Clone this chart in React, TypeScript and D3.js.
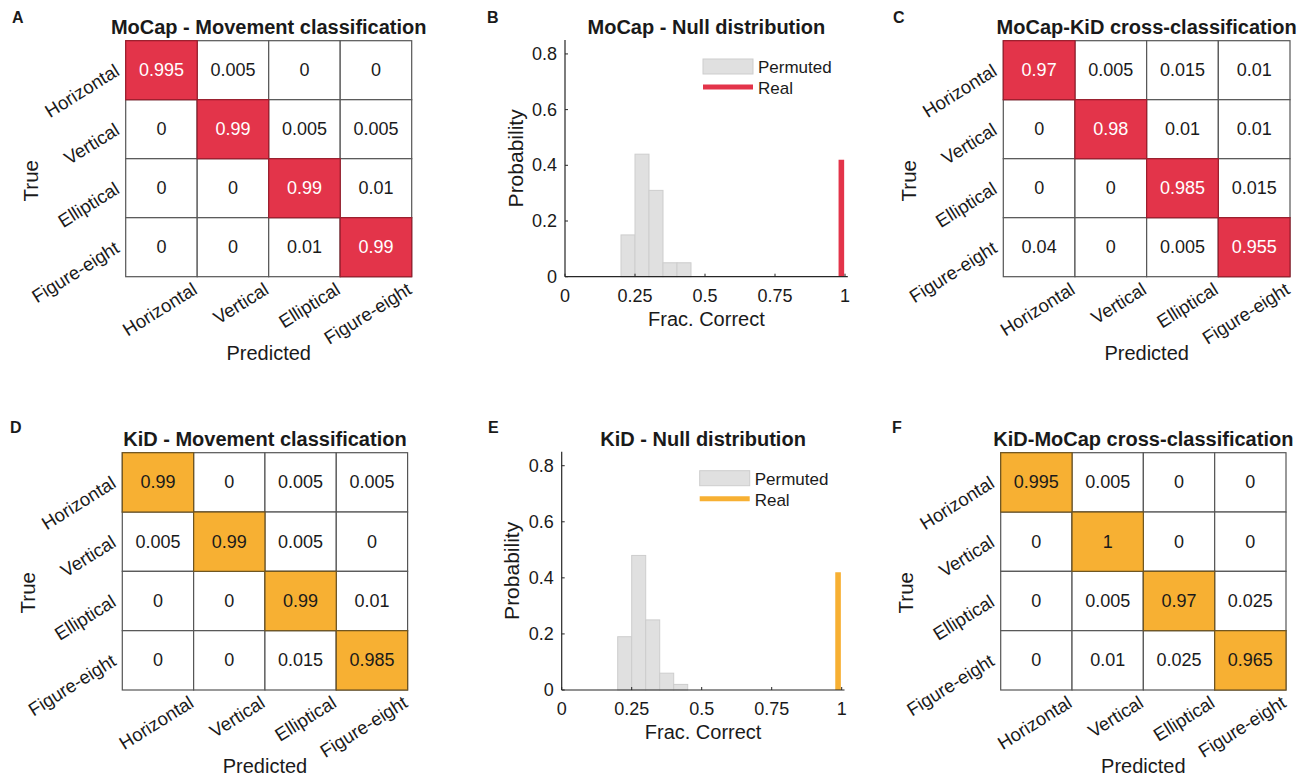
import React from "react";
import * as d3 from "d3";

// class labels shared by every confusion matrix
const classes = ["Horizontal", "Vertical", "Elliptical", "Figure-eight"];

// confusion matrices (rows = true, cols = predicted)
const mocapMatrix = [
  [0.995, 0.005, 0, 0],
  [0, 0.99, 0.005, 0.005],
  [0, 0, 0.99, 0.01],
  [0, 0, 0.01, 0.99],
];
const mocapKidMatrix = [
  [0.97, 0.005, 0.015, 0.01],
  [0, 0.98, 0.01, 0.01],
  [0, 0, 0.985, 0.015],
  [0.04, 0, 0.005, 0.955],
];
const kidMatrix = [
  [0.99, 0, 0.005, 0.005],
  [0.005, 0.99, 0.005, 0],
  [0, 0, 0.99, 0.01],
  [0, 0, 0.015, 0.985],
];
const kidMocapMatrix = [
  [0.995, 0.005, 0, 0],
  [0, 1, 0, 0],
  [0, 0.005, 0.97, 0.025],
  [0, 0.01, 0.025, 0.965],
];

// null distribution histograms
const binEdges = [0.2, 0.25, 0.3, 0.35, 0.4, 0.45];
const mocapNull = [0.15, 0.44, 0.31, 0.05, 0.05];
const kidNull = [0.19, 0.48, 0.25, 0.06, 0.02];
const realCorrect = 0.987;
const realBarWidth = 0.02;
const mocapRealHeight = 0.42;
const kidRealHeight = 0.42;

const xTicks = [0, 0.25, 0.5, 0.75, 1];
const yTicks = [0, 0.2, 0.4, 0.6, 0.8];

const RED = "#e3344a";
const ORANGE = "#f7b033";
const FONT = "'Liberation Sans', Arial, Helvetica, sans-serif";
const INK = "#1a1a1a";

type MatrixProps = {
  letter: string;
  title: string;
  data: number[][];
  color: string;
  stroke: string;
  textOn: string;
  left: number;
  top: number;
  width: number;
  height: number;
  letterX: number;
  letterY: number;
};

function Matrix(p: MatrixProps) {
  const x = d3.scaleBand().domain(classes).range([p.left, p.left + p.width]);
  const y = d3.scaleBand().domain(classes).range([p.top, p.top + p.height]);
  const bottom = p.top + p.height;
  const cells = p.data.flatMap((row, i) =>
    row.map((v, j) => ({ v, t: classes[i], pr: classes[j], hi: v > 0.5 }))
  );
  return (
    <g fontFamily={FONT}>
      <text x={p.letterX} y={p.letterY} fontSize={16} fontWeight="bold" fill={INK}>
        {p.letter}
      </text>
      <text
        x={p.left + p.width / 2}
        y={p.top - 7}
        textAnchor="middle"
        fontSize={20}
        fontWeight="bold"
        fill={INK}
      >
        {p.title}
      </text>
      {cells.map((c, k) => (
        <rect
          key={"w" + k}
          x={x(c.pr)}
          y={y(c.t)}
          width={x.bandwidth()}
          height={y.bandwidth()}
          fill="#fff"
          stroke="#555"
          strokeWidth={1.2}
        />
      ))}
      {cells
        .filter((c) => c.hi)
        .map((c, k) => (
          <rect
            key={"h" + k}
            x={x(c.pr)}
            y={y(c.t)}
            width={x.bandwidth()}
            height={y.bandwidth()}
            fill={p.color}
            stroke={p.stroke}
            strokeWidth={1.2}
          />
        ))}
      {cells.map((c, k) => (
        <text
          key={"t" + k}
          x={(x(c.pr) as number) + x.bandwidth() / 2}
          y={(y(c.t) as number) + y.bandwidth() / 2}
          textAnchor="middle"
          dominantBaseline="central"
          fontSize={18}
          fill={c.hi ? p.textOn : INK}
        >
          {String(c.v)}
        </text>
      ))}
      {classes.map((c) => {
        const px = p.left - 5;
        const py = (y(c) as number) + y.bandwidth() / 2 + 4;
        return (
          <text
            key={"y" + c}
            transform={`translate(${px},${py}) rotate(-32)`}
            textAnchor="end"
            fontSize={18.5}
            fill={INK}
          >
            {c}
          </text>
        );
      })}
      {classes.map((c) => {
        const px = (x(c) as number) + x.bandwidth() / 2 + 37;
        const py = bottom + 16;
        return (
          <text
            key={"x" + c}
            transform={`translate(${px},${py}) rotate(-32)`}
            textAnchor="end"
            fontSize={18.5}
            fill={INK}
          >
            {c}
          </text>
        );
      })}
      <text
        transform={`translate(${p.left - 95},${p.top + 140}) rotate(-90)`}
        textAnchor="middle"
        dominantBaseline="central"
        fontSize={20.5}
        fill={INK}
      >
        True
      </text>
      <text x={p.left + p.width / 2} y={bottom + 83} textAnchor="middle" fontSize={20} fill={INK}>
        Predicted
      </text>
    </g>
  );
}

type HistProps = {
  letter: string;
  title: string;
  probs: number[];
  realHeight: number;
  color: string;
  left: number;
  top: number;
  bottom: number;
  letterX: number;
  letterY: number;
};

function NullHist(p: HistProps) {
  const x = d3.scaleLinear().domain([0, 1]).range([p.left, p.left + 280]);
  const y = d3.scaleLinear().domain([0, 0.85]).range([p.bottom, p.top]);
  const xEnd = x(1.01);
  const bins = p.probs.map((v, i) => ({ x0: binEdges[i], x1: binEdges[i + 1], v }));
  const lx = p.left + 138;
  const ly = p.top + 19;
  return (
    <g fontFamily={FONT}>
      <text x={p.letterX} y={p.letterY} fontSize={16} fontWeight="bold" fill={INK}>
        {p.letter}
      </text>
      <text
        x={(p.left + xEnd) / 2}
        y={p.top - 6}
        textAnchor="middle"
        fontSize={20}
        fontWeight="bold"
        fill={INK}
      >
        {p.title}
      </text>
      {bins.map((b, i) => (
        <rect
          key={i}
          x={x(b.x0)}
          y={y(b.v)}
          width={x(b.x1) - x(b.x0)}
          height={y(0) - y(b.v)}
          fill="#e0e0e0"
          stroke="#cdcdcd"
          strokeWidth={1}
        />
      ))}
      <rect
        x={x(realCorrect - realBarWidth / 2)}
        y={y(p.realHeight)}
        width={x(realCorrect + realBarWidth / 2) - x(realCorrect - realBarWidth / 2)}
        height={y(0) - y(p.realHeight)}
        fill={p.color}
      />
      {/* axes */}
      <line x1={p.left} x2={xEnd} y1={p.bottom} y2={p.bottom} stroke="#262626" strokeWidth={1.2} />
      <line x1={p.left} x2={p.left} y1={p.bottom} y2={p.top} stroke="#262626" strokeWidth={1.2} />
      {xTicks.map((t) => (
        <g key={"xt" + t}>
          <line x1={x(t)} x2={x(t)} y1={p.bottom} y2={p.bottom - 3} stroke="#262626" />
          <text x={x(t)} y={p.bottom + 25} textAnchor="middle" fontSize={18} fill={INK}>
            {String(t)}
          </text>
        </g>
      ))}
      {yTicks.map((t) => (
        <g key={"yt" + t}>
          <line x1={p.left} x2={p.left + 3} y1={y(t)} y2={y(t)} stroke="#262626" />
          <text
            x={p.left - 8}
            y={y(t)}
            textAnchor="end"
            dominantBaseline="central"
            fontSize={18}
            fill={INK}
          >
            {String(t)}
          </text>
        </g>
      ))}
      <text x={(p.left + xEnd) / 2} y={p.bottom + 49} textAnchor="middle" fontSize={20} fill={INK}>
        Frac. Correct
      </text>
      <text
        transform={`translate(${p.left - 50},${(p.top + p.bottom) / 2}) rotate(-90)`}
        textAnchor="middle"
        dominantBaseline="central"
        fontSize={21}
        fill={INK}
      >
        Probability
      </text>
      {/* legend */}
      <rect x={lx} y={ly} width={50} height={15} fill="#e0e0e0" stroke="#cdcdcd" />
      <line x1={lx} x2={lx + 50} y1={ly + 28} y2={ly + 28} stroke={p.color} strokeWidth={5} />
      <text x={lx + 55} y={ly + 14} fontSize={17} fill={INK}>
        Permuted
      </text>
      <text x={lx + 55} y={ly + 35} fontSize={17} fill={INK}>
        Real
      </text>
    </g>
  );
}

export default function App() {
  return (
    <svg
      width={1311}
      height={776}
      style={{ position: "absolute", left: 0, top: 0, background: "#fff" }}
    >
      <Matrix
        letter="A"
        title="MoCap - Movement classification"
        data={mocapMatrix}
        color={RED}
        stroke="#9e1c2c"
        textOn="#fff"
        left={125.7}
        top={40.7}
        width={286}
        height={236}
        letterX={12}
        letterY={23}
      />
      <NullHist
        letter="B"
        title="MoCap - Null distribution"
        probs={mocapNull}
        realHeight={mocapRealHeight}
        color={RED}
        left={565}
        top={40}
        bottom={276.7}
        letterX={487}
        letterY={23}
      />
      <Matrix
        letter="C"
        title="MoCap-KiD cross-classification"
        data={mocapKidMatrix}
        color={RED}
        stroke="#9e1c2c"
        textOn="#fff"
        left={1003.3}
        top={40.7}
        width={286.7}
        height={236}
        letterX={893}
        letterY={23}
      />
      <Matrix
        letter="D"
        title="KiD - Movement classification"
        data={kidMatrix}
        color={ORANGE}
        stroke="#6e5420"
        textOn={INK}
        left={122.3}
        top={452.7}
        width={285.3}
        height={237.3}
        letterX={10}
        letterY={433}
      />
      <NullHist
        letter="E"
        title="KiD - Null distribution"
        probs={kidNull}
        realHeight={kidRealHeight}
        color={ORANGE}
        left={561.7}
        top={451.7}
        bottom={690}
        letterX={488}
        letterY={433}
      />
      <Matrix
        letter="F"
        title="KiD-MoCap cross-classification"
        data={kidMocapMatrix}
        color={ORANGE}
        stroke="#6e5420"
        textOn={INK}
        left={1000.7}
        top={452.7}
        width={285.3}
        height={237.3}
        letterX={892}
        letterY={433}
      />
    </svg>
  );
}
